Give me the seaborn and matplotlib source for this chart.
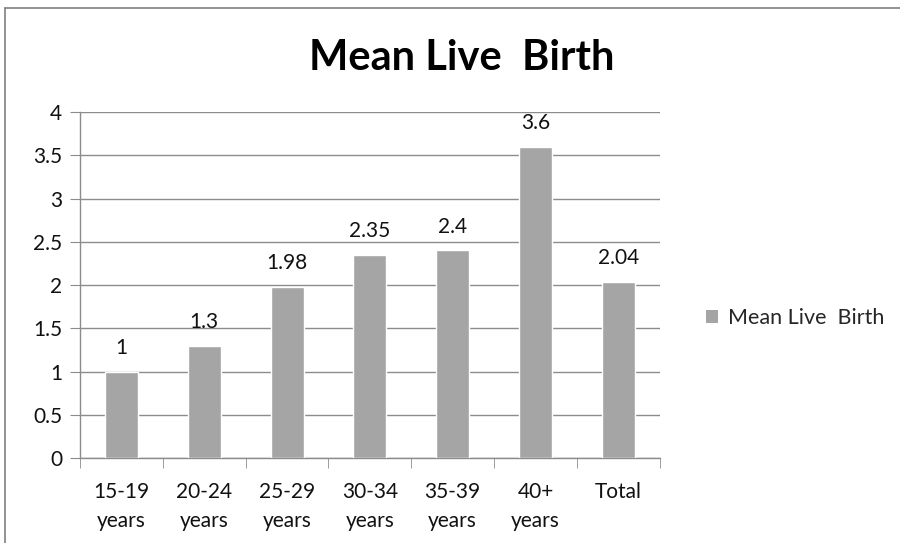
import numpy as np
import pandas as pd
import matplotlib
matplotlib.use("Agg")
import matplotlib.pyplot as plt
import seaborn as sns
from matplotlib.patches import Patch
from matplotlib.lines import Line2D

categories = ["15-19\nyears", "20-24\nyears", "25-29\nyears", "30-34\nyears",
              "35-39\nyears", "40+\nyears", "Total"]
values = [1, 1.3, 1.98, 2.35, 2.4, 3.6, 2.04]
value_labels = ["1", "1.3", "1.98", "2.35", "2.4", "3.6", "2.04"]
series_name = "Mean Live  Birth"

bar_color = "#a5a5a5"
grid_color = "#8c8c8c"

sns.set_style("white")
plt.rcParams["font.family"] = ["Lato", "DejaVu Sans"]

df = pd.DataFrame({"group": categories, "value": values})

fig = plt.figure(figsize=(9, 5.43), dpi=100)
ax = fig.add_axes([0.089, 0.1565, 0.644, 0.637])

sns.barplot(data=df, x="group", y="value", color=bar_color, width=0.4,
            saturation=1, ax=ax, zorder=3)

ax.set_ylim(0, 4)
ax.set_xlim(-0.5, len(categories) - 0.5)
ax.set_yticks(np.arange(0, 4.01, 0.5))
ax.set_yticklabels(["0", "0.5", "1", "1.5", "2", "2.5", "3", "3.5", "4"])
ax.yaxis.grid(True, color=grid_color, linewidth=1)
ax.set_axisbelow(True)
ax.set_xlabel("")
ax.set_ylabel("")

for s in ["top", "right"]:
    ax.spines[s].set_visible(False)
for s in ["left", "bottom"]:
    ax.spines[s].set_color(grid_color)
    ax.spines[s].set_linewidth(1)

ax.tick_params(axis="y", length=7, color=grid_color, labelsize=15, pad=6,
               left=True, labelcolor="#111111")
ax.tick_params(axis="x", which="major", length=0, labelsize=15, pad=17,
               labelcolor="#111111")
ax.set_xticks(np.arange(-0.5, len(categories), 1), minor=True)
ax.tick_params(axis="x", which="minor", length=7, color=grid_color, bottom=True)
for t in ax.get_xticklabels():
    t.set_linespacing(1.6)
    t.set_verticalalignment("top")

ax.bar_label(ax.containers[0], labels=value_labels, padding=10, fontsize=15,
             color="#111111")

fig.text(0.513, 0.893, "Mean Live  Birth", ha="center", va="center",
         fontsize=30, fontweight="bold", color="black")

handle = Patch(facecolor=bar_color, edgecolor="none")
fig.legend([handle], [series_name], loc="center left",
           bbox_to_anchor=(0.772, 1 - 318 / 543), frameon=False, fontsize=15.5,
           handlelength=0.6, handleheight=0.6, handletextpad=0.45, borderpad=0)

# outer chart frame (top and left edges visible in the original)
fig.add_artist(Line2D([5 / 900, 1], [1 - 8 / 543, 1 - 8 / 543],
                      transform=fig.transFigure, color="#7f7f7f", linewidth=1.2))
fig.add_artist(Line2D([5 / 900, 5 / 900], [0, 1 - 8 / 543],
                      transform=fig.transFigure, color="#7f7f7f", linewidth=1.2))

fig.savefig("out.png", dpi=100, facecolor="white")
